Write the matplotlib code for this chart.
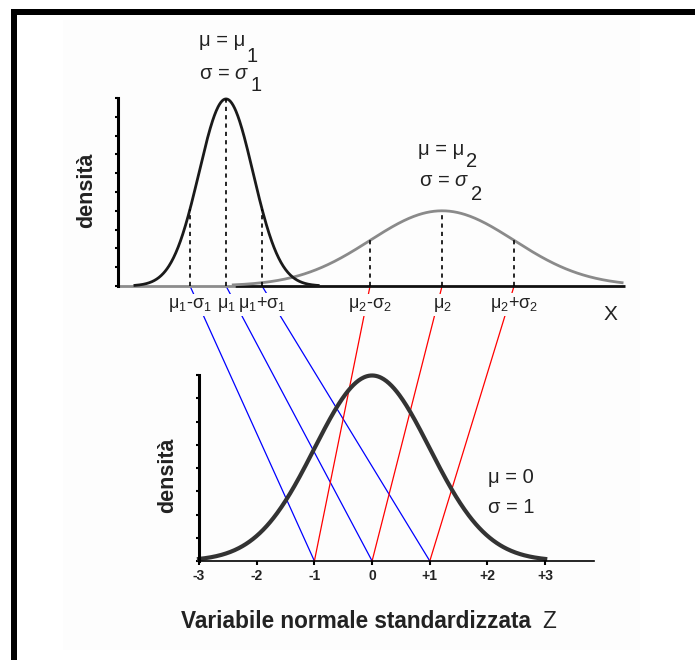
import numpy as np
import matplotlib.pyplot as plt
from matplotlib.patches import Rectangle, ConnectionPatch

plt.rcParams['font.family'] = ['Liberation Sans', 'DejaVu Sans']
plt.rcParams['mathtext.fontset'] = 'custom'
plt.rcParams['mathtext.rm'] = 'Liberation Sans'
plt.rcParams['mathtext.it'] = 'Liberation Sans:italic'
plt.rcParams['mathtext.bf'] = 'Liberation Sans:bold'

# --- data (X units on the upper panel, Z units on the lower one) ---
mu1, sd1, peak1 = 3.0, 0.75, 0.995     # narrow black curve
mu2, sd2, peak2 = 9.0, 2.0, 0.40       # wide gray curve
x1_range = (0.47, 5.56)
x2_range = (3.2, 14.0)
marker_x = [2.0, 3.0, 4.0, 7.0, 9.0, 11.0]
marker_curve = [1, 1, 1, 2, 2, 2]
marker_labels = ["μ$_1$-σ$_1$", "μ$_1$", "μ$_1$+σ$_1$",
                 "μ$_2$-σ$_2$", "μ$_2$", "μ$_2$+σ$_2$"]
z_target = [-1, 0, 1, -1, 0, 1]
link_colors = ["#0000ff"] * 3 + ["#ff0000"] * 3
z_ticks = [-3, -2, -1, 0, 1, 2, 3]
z_ticklabels = ["-3", "-2", "-1", "0", "+1", "+2", "+3"]
z_range = (-3, 3)

BG = "#fdfdfd"
W, H = 695, 660


def bell(x, mu, sd, peak):
    return peak * np.exp(-0.5 * ((x - mu) / sd) ** 2)


fig = plt.figure(figsize=(W / 100, H / 100), dpi=100)

# background panel + frame bands
fig.add_artist(Rectangle((63 / W, 10 / H), (640 - 63) / W, (645 - 15) / H,
                         transform=fig.transFigure, fc=BG, ec="none", zorder=-5))
fig.add_artist(Rectangle((11 / W, 1 - 14.5 / H), 1 - 11 / W, 5.5 / H,
                         transform=fig.transFigure, fc="black", ec="none", zorder=5))
fig.add_artist(Rectangle((11 / W, 0), 5.5 / W, 1 - 9 / H,
                         transform=fig.transFigure, fc="black", ec="none", zorder=5))

# ---------------- upper panel: X ----------------
ax1 = fig.add_axes([118 / W, 1 - 286 / H, (625 - 118) / W, 188 / H])
ax1.set_zorder(1)
ax1.patch.set_visible(False)
ax1.set_xlim(0, 14.08); ax1.set_ylim(0, 1)
for s in ["top", "right", "bottom"]:
    ax1.spines[s].set_visible(False)
ax1.spines["left"].set_linewidth(2.2)
ax1.set_xticks([])
ax1.set_yticks(np.linspace(0, 1, 11))
ax1.tick_params(axis="y", direction="out", length=2.5, width=1.5, labelleft=False)

ax1.plot([0, 3.25], [0, 0], color="#8c8c8c", lw=2, clip_on=False, solid_capstyle="butt")
ax1.plot([3.25, 14.08], [0, 0], color="#111111", lw=2, clip_on=False, solid_capstyle="butt")

xa = np.linspace(*x2_range, 400)
ax1.plot(xa, bell(xa, mu2, sd2, peak2), color="#8a8a8a", lw=2, clip_on=False)
xb = np.linspace(*x1_range, 400)
ax1.plot(xb, bell(xb, mu1, sd1, peak1), color="#1a1a1a", lw=2, clip_on=False)

for mx, c in zip(marker_x, marker_curve):
    yv = bell(mx, mu1, sd1, peak1) if c == 1 else bell(mx, mu2, sd2, peak2)
    ax1.plot([mx, mx], [0, yv], color="black", lw=1.2, ls=(0, (2.5, 2.5)))

for mx, lab in zip(marker_x, marker_labels):
    ax1.text(mx, -0.117, lab, ha="center", va="baseline", fontsize=13, color="#222222",
             bbox=dict(boxstyle="square,pad=0.1", fc=BG, ec="none"))

def param_label(ax, x, y, main, sub, dy):
    t = ax.text(x, y, main, fontsize=14.5, ha="left", va="baseline", color="#222222")
    ax.annotate(sub, xy=(1, 0), xycoords=t, xytext=(1, dy), textcoords="offset points",
                fontsize=14.5, ha="left", va="baseline", color="#222222")

param_label(ax1, 2.25, 1.278, "μ = μ", "1", -8.6)
param_label(ax1, 2.25, 1.101, "σ = $\\sigma$", "1", -5.8)
param_label(ax1, 8.33, 0.697, "μ = μ", "2", -5.5)
param_label(ax1, 8.36, 0.532, "σ = $\\sigma$", "2", -7.2)

ax1.text(13.69, -0.181, "X", fontsize=15, ha="center", va="baseline", color="#222222")
ax1.text(-0.861, 0.51, "densità", rotation=90, fontsize=15.5, fontweight="bold",
         ha="center", va="center", color="#222222")

# ---------------- lower panel: Z ----------------
ax2 = fig.add_axes([199 / W, 1 - 561 / H, (594 - 199) / W, 186 / H])
ax2.set_zorder(1)
ax2.patch.set_visible(False)
ax2.set_xlim(-3, 3.846); ax2.set_ylim(0, 0.4)
for s in ["top", "right"]:
    ax2.spines[s].set_visible(False)
ax2.spines["left"].set_linewidth(2.2)
ax2.spines["bottom"].set_linewidth(1.2)
ax2.set_xticks(z_ticks)
ax2.set_xticklabels(z_ticklabels, fontsize=10, fontweight="bold", color="#222222")
ax2.set_yticks(np.linspace(0, 0.4, 9))
ax2.tick_params(axis="x", direction="out", length=3, width=1.5, pad=2.5)
ax2.tick_params(axis="y", direction="out", length=2.5, width=1.5, labelleft=False)

zz = np.linspace(*z_range, 400)
ax2.plot(zz, np.exp(-0.5 * zz ** 2) / np.sqrt(2 * np.pi), color="#333333", lw=3,
         clip_on=False)

ax2.text(2.009, 0.168, "μ = 0", fontsize=14.5, ha="left", va="baseline", color="#222222")
ax2.text(2.009, 0.104, "σ = 1", fontsize=14.5, ha="left", va="baseline", color="#222222")
ax2.text(-3.537, 0.185, "densità", rotation=90, fontsize=15.5, fontweight="bold",
         ha="center", va="center", color="#222222")
ax2.text(-0.279, -0.144, "Variabile normale standardizzata", fontsize=16.3,
         fontweight="bold", ha="center", va="baseline", color="#222222")
ax2.text(3.07, -0.144, "Z", fontsize=16.3, ha="center", va="baseline", color="#222222")

# ---------------- links X -> Z ----------------
for mx, zt, col in zip(marker_x, z_target, link_colors):
    con = ConnectionPatch(xyA=(mx, 0), coordsA=ax1.transData,
                          xyB=(zt, 0), coordsB=ax2.transData,
                          color=col, lw=0.9, zorder=0.5)
    fig.add_artist(con)

fig.savefig("out.png", dpi=100)
